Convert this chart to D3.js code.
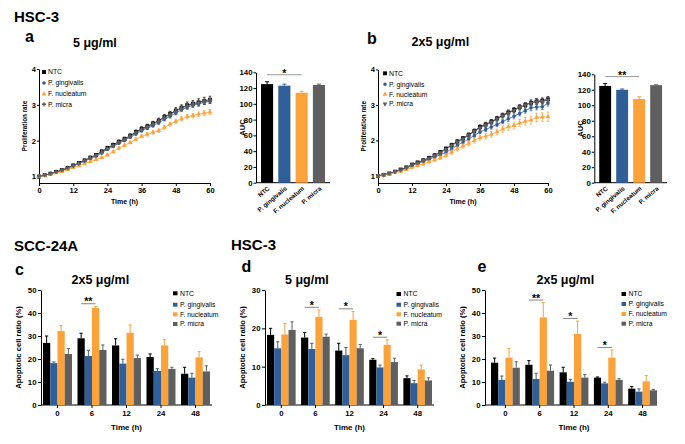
<!DOCTYPE html>
<html><head><meta charset="utf-8">
<script src="https://cdn.jsdelivr.net/npm/d3@7"></script>
<style>
body{margin:0;background:#fff}
svg{font-family:"Liberation Sans",Arial,sans-serif;display:block}
</style></head><body>
<svg id="chart" width="685" height="444"></svg>
<script>
// ---------- DATA ----------
const seriesNames = ["NTC","P. gingivalis","F. nucleatum","P. micra"];
const seriesColors = ["#000000","#2f5f99","#fca23a","#5f5f5f"];
const timeHours = [0,2,4,6,8,10,12,14,16,18,20,22,24,26,28,30,32,34,36,38,40,42,44,46,48,50,52,54,56,58,60];
const timeTicks = [0,12,24,36,48,60];
const rateTicks = [1,2,3,4];

// Panel a (5 ug/ml) proliferation rate
const ntcA = [1.00,1.04,1.08,1.13,1.18,1.24,1.31,1.38,1.45,1.53,1.60,1.70,1.80,1.88,1.97,2.05,2.14,2.24,2.33,2.40,2.48,2.56,2.66,2.75,2.84,2.92,2.99,3.03,3.07,3.11,3.14];
const pgA  = [1.00,1.04,1.08,1.12,1.17,1.23,1.30,1.36,1.43,1.50,1.57,1.66,1.76,1.84,1.93,2.01,2.10,2.19,2.28,2.35,2.42,2.50,2.60,2.68,2.77,2.86,2.93,2.99,3.03,3.07,3.10];
const fnA  = [1.00,1.03,1.06,1.10,1.14,1.19,1.25,1.30,1.36,1.42,1.47,1.53,1.60,1.69,1.79,1.87,1.95,2.04,2.12,2.18,2.23,2.28,2.37,2.46,2.54,2.61,2.67,2.70,2.74,2.77,2.80];
const pmA  = [1.00,1.04,1.08,1.13,1.18,1.24,1.30,1.37,1.44,1.52,1.59,1.68,1.78,1.86,1.95,2.03,2.12,2.22,2.31,2.38,2.46,2.54,2.64,2.73,2.82,2.90,2.97,3.02,3.06,3.10,3.13];
const ntcAErr = [0.01,0.01,0.02,0.02,0.02,0.02,0.03,0.03,0.03,0.03,0.04,0.04,0.04,0.05,0.05,0.05,0.05,0.06,0.06,0.06,0.06,0.07,0.07,0.07,0.08,0.08,0.09,0.09,0.10,0.10,0.10];
const pgAErr  = [0.01,0.01,0.01,0.01,0.02,0.02,0.02,0.02,0.02,0.03,0.03,0.03,0.03,0.03,0.03,0.04,0.04,0.04,0.04,0.04,0.04,0.05,0.05,0.05,0.05,0.05,0.06,0.06,0.06,0.06,0.06];
const fnAErr  = [0.01,0.01,0.01,0.02,0.02,0.02,0.02,0.02,0.03,0.03,0.03,0.03,0.03,0.03,0.04,0.04,0.04,0.04,0.04,0.05,0.05,0.05,0.05,0.05,0.05,0.06,0.06,0.06,0.06,0.07,0.07];
const pmAErr  = [0.01,0.01,0.01,0.01,0.02,0.02,0.02,0.02,0.02,0.03,0.03,0.03,0.03,0.03,0.03,0.04,0.04,0.04,0.04,0.04,0.04,0.05,0.05,0.05,0.05,0.05,0.06,0.06,0.06,0.06,0.06];

// Panel b (2x5 ug/ml)
const ntcB = [1.00,1.03,1.07,1.12,1.18,1.24,1.32,1.38,1.44,1.51,1.58,1.67,1.77,1.87,1.97,2.06,2.16,2.27,2.38,2.45,2.53,2.62,2.71,2.79,2.86,2.94,3.00,3.06,3.10,3.12,3.16];
const pgB  = [1.00,1.03,1.06,1.11,1.16,1.22,1.29,1.35,1.41,1.47,1.53,1.60,1.66,1.76,1.86,1.95,2.04,2.14,2.24,2.31,2.38,2.45,2.53,2.61,2.68,2.76,2.84,2.92,2.94,2.95,3.05];
const fnB  = [1.00,1.02,1.05,1.09,1.13,1.18,1.24,1.29,1.34,1.40,1.45,1.51,1.58,1.67,1.76,1.84,1.92,2.00,2.08,2.12,2.17,2.24,2.32,2.38,2.42,2.49,2.54,2.57,2.65,2.66,2.67];
const pmB  = [1.00,1.03,1.07,1.12,1.17,1.23,1.31,1.37,1.43,1.50,1.57,1.65,1.75,1.85,1.95,2.04,2.14,2.25,2.35,2.43,2.51,2.60,2.69,2.77,2.85,2.93,3.00,3.06,3.09,3.10,3.14];
const ntcBErr = [0.01,0.01,0.02,0.02,0.02,0.02,0.03,0.03,0.03,0.03,0.04,0.04,0.04,0.05,0.05,0.05,0.05,0.05,0.06,0.06,0.06,0.06,0.06,0.07,0.07,0.07,0.07,0.08,0.08,0.08,0.08];
const pgBErr  = [0.01,0.01,0.01,0.02,0.02,0.02,0.02,0.03,0.03,0.03,0.03,0.04,0.04,0.04,0.04,0.05,0.05,0.05,0.05,0.06,0.06,0.06,0.06,0.07,0.07,0.07,0.07,0.08,0.08,0.08,0.08];
const fnBErr  = [0.01,0.01,0.02,0.02,0.03,0.03,0.03,0.04,0.04,0.04,0.05,0.05,0.05,0.06,0.06,0.06,0.07,0.07,0.07,0.08,0.08,0.08,0.09,0.09,0.10,0.10,0.11,0.11,0.12,0.12,0.13];
const pmBErr  = [0.01,0.01,0.02,0.02,0.02,0.02,0.03,0.03,0.03,0.03,0.04,0.04,0.04,0.05,0.05,0.05,0.05,0.05,0.06,0.06,0.06,0.06,0.06,0.07,0.07,0.07,0.07,0.08,0.08,0.08,0.08];

// AUC
const aucTicks = [0,20,40,60,80,100,120,140];
const aucA = [125,123,114,124];
const aucAErr = [3,2,2,1];
const aucB = [125,120,108,126];
const aucBErr = [3,1,3,0.5];
const aucASig = "*";
const aucBSig = "**";

// Apoptosis
const apoGroups = ["0","6","12","24","48"];
const cNtc = [27.0,29.0,25.9,20.9,13.6], cNtcErr = [3.0,2.2,2.9,1.3,2.8];
const cPg  = [18.2,21.3,18.0,14.8,11.9], cPgErr  = [0.5,2.5,1.9,1.0,1.9];
const cFn  = [32.2,42.2,31.4,25.9,20.7], cFnErr  = [2.3,0.7,3.4,2.5,2.6];
const cPm  = [22.2,23.9,20.4,15.7,14.6], cPmErr  = [2.4,2.2,1.3,0.7,2.4];
const cSig = [{group:"6",label:"**"}];
const cTicks = [0,10,20,30,40,50];

const dNtc = [18.3,17.6,14.2,11.8,7.0], dNtcErr = [1.7,1.3,1.9,0.3,0.6];
const dPg  = [14.8,14.6,13.0,9.8,5.7],  dPgErr  = [1.7,1.5,2.0,0.6,0.7];
const dFn  = [18.4,23.0,22.2,15.7,9.3], dFnErr  = [2.9,1.8,2.2,1.3,1.1];
const dPm  = [19.6,17.8,14.8,11.2,6.4], dPmErr  = [2.1,0.7,1.0,1.0,0.7];
const dSig = [{group:"6",label:"*"},{group:"12",label:"*"},{group:"24",label:"*"}];
const dTicks = [0,10,20,30];

const eNtc = [18.4,17.5,14.2,11.9,7.1], eNtcErr = [2.0,1.8,2.2,0.3,0.9];
const ePg  = [10.9,11.3,10.1,9.4,5.8],  ePgErr  = [1.7,2.5,1.1,0.5,1.2];
const eFn  = [20.6,38.1,30.9,20.6,10.3], eFnErr = [4.0,6.4,5.6,3.3,2.5];
const ePm  = [16.2,14.9,11.9,10.9,6.4], ePmErr  = [2.6,2.5,1.3,0.5,0.4];
const eSig = [{group:"6",label:"**"},{group:"12",label:"*"},{group:"24",label:"*"}];
const eTicks = [0,10,20,30,40,50];

// ---------- DRAW ----------
const svg = d3.select("#chart");
const FONT = '"Liberation Sans",Arial,sans-serif';

function txt(x, y, s, size, weight, anchor) {
  return svg.append("text").attr("x", x).attr("y", y).text(s)
    .attr("font-size", size).attr("font-weight", weight || "bold")
    .attr("text-anchor", anchor || "start").attr("fill", "#000");
}
function styleAxis(g, size) {
  g.selectAll("path.domain").attr("stroke", "#000").attr("stroke-width", 1);
  g.selectAll(".tick line").attr("stroke", "#000").attr("stroke-width", 1);
  g.selectAll(".tick text").attr("font-size", size).attr("font-weight", "bold")
    .attr("font-family", FONT).attr("fill", "#000");
}

// Titles
txt(14, 21.5, "HSC-3", 15);
txt(25, 42, "a", 16);
txt(73, 46.5, "5 μg/ml", 12.5);
txt(367, 43.5, "b", 16);
txt(411.5, 46, "2x5 μg/ml", 12.5);
txt(14, 250.5, "SCC-24A", 15);
txt(15, 275, "c", 16);
txt(71.5, 284, "2x5 μg/ml", 12.5);
txt(231, 249.5, "HSC-3", 15);
txt(241.5, 271.5, "d", 16);
txt(285, 284, "5 μg/ml", 12.5);
txt(477.5, 272, "e", 16);
txt(536.5, 283.5, "2x5 μg/ml", 12.5);

const symbolsA = [d3.symbolSquare, d3.symbolCircle, d3.symbolTriangle, d3.symbolCross];
const symbolsB = [d3.symbolSquare, d3.symbolCircle, d3.symbolTriangle, d3.symbolTriangle];
const symSizes = [15, 10, 10, 10];

function lineChart(o) {
  const x = d3.scaleLinear().domain([0, 60]).range([o.x0, o.x1]);
  const y = d3.scaleLinear().domain([o.yMin, 4]).range([o.yB, o.yT]);
  const g = svg.append("g");
  const ax = g.append("g").attr("transform", `translate(0,${o.yB})`)
    .call(d3.axisBottom(x).tickValues(timeTicks).tickFormat(d3.format("d")).tickSize(3).tickSizeOuter(0).tickPadding(1.5));
  styleAxis(ax, 7.5);
  const ay = g.append("g").attr("transform", `translate(${o.x0},0)`)
    .call(d3.axisLeft(y).tickValues(rateTicks).tickFormat(d3.format("d")).tickSize(2).tickSizeOuter(0).tickPadding(1));
  styleAxis(ay, 7.5);
  g.append("text").attr("transform", `translate(${o.ylabX},${(o.yT + o.yB) / 2}) rotate(-90)`)
    .attr("text-anchor", "middle").attr("font-size", 6.3).attr("font-weight", "bold").text("Proliferation rate");
  g.append("text").attr("x", (o.x0 + o.x1) / 2).attr("y", o.yB + 20.5)
    .attr("text-anchor", "middle").attr("font-size", 7).attr("font-weight", "bold").text("Time (h)");
  const line = d3.line().x((d, i) => x(timeHours[i])).y(d => y(d));
  o.series.forEach((vals, s) => {
    const col = seriesColors[s];
    const sg = g.append("g");
    sg.append("path").attr("d", line(vals)).attr("fill", "none").attr("stroke", col).attr("stroke-width", 0.8);
    vals.forEach((v, i) => {
      const e = o.errs[s][i], cx = x(timeHours[i]);
      sg.append("line").attr("x1", cx).attr("x2", cx).attr("y1", y(v - e)).attr("y2", y(v + e)).attr("stroke", col).attr("stroke-width", 0.7);
      sg.append("line").attr("x1", cx - 1.3).attr("x2", cx + 1.3).attr("y1", y(v + e)).attr("y2", y(v + e)).attr("stroke", col).attr("stroke-width", 0.7);
      sg.append("line").attr("x1", cx - 1.3).attr("x2", cx + 1.3).attr("y1", y(v - e)).attr("y2", y(v - e)).attr("stroke", col).attr("stroke-width", 0.7);
    });
    sg.selectAll("path.pt").data(vals).enter().append("path")
      .attr("transform", (d, i) => `translate(${x(timeHours[i])},${y(d)})` + (o.flipLast && s === 3 ? " rotate(180)" : ""))
      .attr("d", d3.symbol().type(o.symbols[s]).size(symSizes[s])).attr("fill", col);
  });
  // legend
  seriesNames.forEach((nm, s) => {
    const ly = o.legY[s];
    g.append("path").attr("transform", `translate(${o.legX},${ly})` + (o.flipLast && s === 3 ? " rotate(180)" : ""))
      .attr("d", d3.symbol().type(o.symbols[s]).size(symSizes[s])).attr("fill", seriesColors[s]);
    g.append("text").attr("x", o.legX + 4).attr("y", ly + 2.3).attr("font-size", 6.8).text(nm);
  });
}

lineChart({x0: 39, x1: 210, yB: 183, yT: 69, yMin: 0.82, ylabX: 27,
  series: [ntcA, pgA, fnA, pmA], errs: [ntcAErr, pgAErr, fnAErr, pmAErr],
  symbols: symbolsA, flipLast: false, legX: 44, legY: [72, 83, 94, 104.3]});
lineChart({x0: 378, x1: 548, yB: 183, yT: 69.5, yMin: 0.8, ylabX: 366,
  series: [ntcB, pgB, fnB, pmB], errs: [ntcBErr, pgBErr, fnBErr, pmBErr],
  symbols: symbolsB, flipLast: true, legX: 385, legY: [73.3, 84.3, 94.3, 104]});

function aucChart(o) {
  const x = d3.scaleBand().domain(seriesNames).range([o.x0, o.x1]).paddingInner(0.3).paddingOuter(0.29);
  const y = d3.scaleLinear().domain([0, 140]).range([o.yB, o.yT]);
  const g = svg.append("g");
  const ay = g.append("g").attr("transform", `translate(${o.x0},0)`)
    .call(d3.axisLeft(y).tickValues(aucTicks).tickSize(2.5).tickSizeOuter(0).tickPadding(1));
  styleAxis(ay, 7.8);
  g.append("line").attr("x1", o.x0).attr("x2", o.x1).attr("y1", o.yB).attr("y2", o.yB).attr("stroke", "#000");
  g.append("text").attr("transform", `translate(${o.x0 - 11},${(o.yT + o.yB) / 2}) rotate(-90)`)
    .attr("text-anchor", "middle").attr("font-size", 7.5).attr("font-weight", "bold").text("AUC");
  o.vals.forEach((v, i) => {
    const bx = x(seriesNames[i]), bw = x.bandwidth(), cx = bx + bw / 2, col = seriesColors[i];
    g.append("rect").attr("x", bx).attr("y", y(v)).attr("width", bw).attr("height", y(0) - y(v)).attr("fill", col);
    const top = y(v + o.errs[i]);
    g.append("line").attr("x1", cx).attr("x2", cx).attr("y1", y(v)).attr("y2", top).attr("stroke", col).attr("stroke-width", 1);
    g.append("line").attr("x1", cx - 2).attr("x2", cx + 2).attr("y1", top).attr("y2", top).attr("stroke", col).attr("stroke-width", 1);
    g.append("text").attr("transform", `translate(${cx + 3},${o.yB + 6.5}) rotate(-40)`)
      .attr("text-anchor", "end").attr("font-size", 6.3).attr("font-weight", "bold").text(seriesNames[i]);
  });
  const maxTop = d3.max(o.vals.map((v, i) => v + o.errs[i]));
  const ly = y(maxTop) - 7;
  const c0 = x(seriesNames[0]) + x.bandwidth() / 2, c2 = x(seriesNames[2]) + x.bandwidth() / 2;
  g.append("line").attr("x1", c0).attr("x2", c2).attr("y1", ly).attr("y2", ly).attr("stroke", "#999").attr("stroke-width", 1);
  g.append("text").attr("x", (c0 + c2) / 2).attr("y", ly + 2.3).attr("text-anchor", "middle")
    .attr("font-size", 10.5).attr("font-weight", "bold").text(o.sig);
}
aucChart({x0: 256, x1: 330, yB: 182.7, yT: 72.3, vals: aucA, errs: aucAErr, sig: aucASig});
aucChart({x0: 594.3, x1: 667, yB: 182.7, yT: 74.3, vals: aucB, errs: aucBErr, sig: aucBSig});

function apoChart(o) {
  const x = d3.scaleBand().domain(apoGroups).range([o.bx0, o.bx1]).paddingInner(0.16).paddingOuter(0);
  const xi = d3.scaleBand().domain(seriesNames).range([0, x.bandwidth()]);
  const y = d3.scaleLinear().domain([0, o.yMax]).range([405, 290]);
  const g = svg.append("g");
  const ay = g.append("g").attr("transform", `translate(${o.ax0},0)`)
    .call(d3.axisLeft(y).tickValues(o.ticks).tickSize(3).tickSizeOuter(0).tickPadding(1.5));
  styleAxis(ay, 7.8);
  const ax = g.append("g").attr("transform", `translate(0,405)`)
    .call(d3.axisBottom(x).tickSize(3).tickSizeOuter(0).tickPadding(2));
  ax.select("path.domain").remove();
  styleAxis(ax, 7.8);
  g.append("line").attr("x1", o.ax0).attr("x2", o.ax1).attr("y1", 405).attr("y2", 405).attr("stroke", "#000");
  g.append("text").attr("transform", `translate(${o.ax0 - 20},347.5) rotate(-90)`)
    .attr("text-anchor", "middle").attr("font-size", 7.6).attr("font-weight", "bold").text("Apoptotic cell ratio (%)");
  g.append("text").attr("x", (o.bx0 + o.bx1) / 2).attr("y", 429.5).attr("text-anchor", "middle")
    .attr("font-size", 8).attr("font-weight", "bold").text("Time (h)");
  o.series.forEach((vals, s) => {
    const col = seriesColors[s];
    vals.forEach((v, i) => {
      const bx = x(apoGroups[i]) + xi(seriesNames[s]), bw = xi.bandwidth(), cx = bx + bw / 2;
      g.append("rect").attr("x", bx).attr("y", y(v)).attr("width", bw).attr("height", y(0) - y(v)).attr("fill", col);
      const top = y(v + o.errs[s][i]);
      g.append("line").attr("x1", cx).attr("x2", cx).attr("y1", y(v)).attr("y2", top).attr("stroke", col).attr("stroke-width", 1);
      g.append("line").attr("x1", cx - 1.6).attr("x2", cx + 1.6).attr("y1", top).attr("y2", top).attr("stroke", col).attr("stroke-width", 1);
    });
  });
  o.sig.forEach(sg => {
    const gi = apoGroups.indexOf(sg.group);
    const c0 = x(sg.group) + xi(seriesNames[0]) + xi.bandwidth() / 2;
    const c2 = x(sg.group) + xi(seriesNames[2]) + xi.bandwidth() / 2;
    const ly = y(o.series[2][gi] + o.errs[2][gi]) - 2.6;
    g.append("line").attr("x1", c0).attr("x2", c2).attr("y1", ly).attr("y2", ly).attr("stroke", "#666").attr("stroke-width", 0.8);
    g.append("text").attr("x", (c0 + c2) / 2).attr("y", ly + 1.5).attr("text-anchor", "middle")
      .attr("font-size", 10.5).attr("font-weight", "bold").text(sg.label);
  });
  seriesNames.forEach((nm, s) => {
    const ly = o.legY[s];
    g.append("rect").attr("x", o.legX).attr("y", ly - 2).attr("width", 4.5).attr("height", 4).attr("fill", seriesColors[s]);
    g.append("text").attr("x", o.legX + 7).attr("y", ly + 2.3).attr("font-size", 6.8).text(nm);
  });
}
apoChart({ax0: 41, ax1: 212, bx0: 43, bx1: 210, yMax: 50, ticks: cTicks,
  series: [cNtc, cPg, cFn, cPm], errs: [cNtcErr, cPgErr, cFnErr, cPmErr], sig: cSig,
  legX: 173, legY: [293.3, 304.7, 314.3, 324]});
apoChart({ax0: 265, ax1: 434, bx0: 267, bx1: 432, yMax: 30, ticks: dTicks,
  series: [dNtc, dPg, dFn, dPm], errs: [dNtcErr, dPgErr, dFnErr, dPmErr], sig: dSig,
  legX: 396.5, legY: [294, 304.7, 314.3, 323.7]});
apoChart({ax0: 485, ax1: 657, bx0: 491, bx1: 657, yMax: 50, ticks: eTicks,
  series: [eNtc, ePg, eFn, ePm], errs: [eNtcErr, ePgErr, eFnErr, ePmErr], sig: eSig,
  legX: 621.5, legY: [294, 304, 314, 323.7]});
</script>
</body></html>
